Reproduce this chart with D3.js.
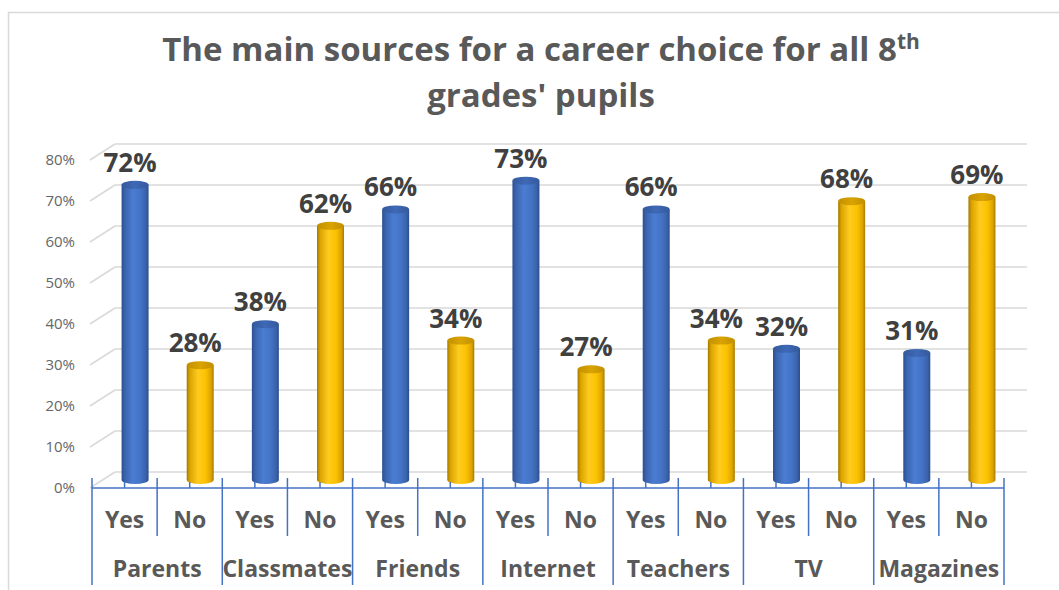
<!DOCTYPE html>
<html>
<head>
<meta charset="utf-8">
<script src="https://cdn.jsdelivr.net/npm/d3@7/dist/d3.min.js"></script>
<style>
  html, body { margin: 0; padding: 0; background: #fff; }
  svg { display: block; font-family: "Open Sans", "Noto Sans", sans-serif; }
</style>
</head>
<body>
<svg id="chart" width="1059" height="590"></svg>
<script>
// Career-choice sources, share of pupils answering Yes / No
const groups = ["Parents", "Classmates", "Friends", "Internet", "Teachers", "TV", "Magazines"];
const answers = ["Yes", "No"];
const yesValues = [0.72, 0.38, 0.66, 0.73, 0.66, 0.32, 0.31];
const noValues  = [0.28, 0.62, 0.34, 0.27, 0.34, 0.68, 0.69];
const yTicks = [0, 0.1, 0.2, 0.3, 0.4, 0.5, 0.6, 0.7, 0.8];

const svg = d3.select("#chart");
const W = 1059, H = 590;

// flatten into one slot per bar
const slots = [];
groups.forEach((g, i) => {
  slots.push({ group: g, answer: "Yes", value: yesValues[i] });
  slots.push({ group: g, answer: "No",  value: noValues[i] });
});
slots.forEach((d, i) => d.key = i);

// layout of the pseudo-3D plot
const frontLeft = 92, frontRight = 1004;
const depthX = 23, depthY = -16;          // back wall offset from the front plane
const frontZero = 488, frontTop = 160;    // y of 0% and 80% on the front plane

const x = d3.scaleBand().domain(slots.map(d => d.key)).range([frontLeft, frontRight]).paddingInner(0).paddingOuter(0);
const yFront = d3.scaleLinear().domain([0, 0.8]).range([frontZero, frontTop]);
const yBack = v => yFront(v) + depthY;
const yMid = v => yFront(v) + depthY / 2;

// chart frame
svg.append("rect")
  .attr("x", 8.5).attr("y", 12.5)
  .attr("width", W + 20).attr("height", H + 20)
  .attr("fill", "none").attr("stroke", "#d9d9d9").attr("stroke-width", 1.5);

// title
const title = svg.append("g").attr("fill", "#595959").attr("font-weight", 700).attr("text-anchor", "middle");
const t1 = title.append("text").attr("x", 541).attr("y", 61).attr("font-size", 33);
t1.append("tspan").text("The main sources for a career choice for all 8");
t1.append("tspan").attr("font-size", 21).attr("dy", -12).text("th");
title.append("text").attr("x", 541).attr("y", 107).attr("font-size", 33).text("grades' pupils");

// gridlines: back wall + left side wall
const grid = svg.append("g").attr("stroke", "#d9d9d9").attr("stroke-width", 1.5).attr("fill", "none");
grid.selectAll("line.back").data(yTicks).join("line")
  .attr("class", "back")
  .attr("x1", frontLeft + depthX).attr("x2", frontRight + depthX)
  .attr("y1", d => yBack(d)).attr("y2", d => yBack(d));
grid.selectAll("line.side").data(yTicks).join("line")
  .attr("class", "side")
  .attr("x1", frontLeft - 2).attr("x2", frontLeft + depthX)
  .attr("y1", d => yFront(d)).attr("y2", d => yBack(d));

// y axis labels
svg.append("g").attr("fill", "#666666").attr("font-size", 15).attr("text-anchor", "end")
  .selectAll("text").data(yTicks).join("text")
  .attr("x", 75).attr("y", d => yFront(d)).attr("dy", "0.35em")
  .text(d3.format(".0%"));

// cylinder gradients
const defs = svg.append("defs");
function cylGradient(id, stops) {
  const g = defs.append("linearGradient").attr("id", id).attr("x1", 0).attr("x2", 1).attr("y1", 0).attr("y2", 0);
  stops.forEach(([o, c]) => g.append("stop").attr("offset", o).attr("stop-color", c));
}
cylGradient("blueBody", [[0, "#2b4f8f"], [0.12, "#3a63ad"], [0.42, "#4a7dd2"], [0.7, "#4473c5"], [0.9, "#3a62a9"], [1, "#2b4e8b"]]);
cylGradient("goldBody", [[0, "#a37a00"], [0.12, "#dba400"], [0.42, "#ffcb1f"], [0.7, "#fcc200"], [0.9, "#dca400"], [1, "#a67c00"]]);
cylGradient("blueTop", [[0, "#34599c"], [0.5, "#3f69b6"], [1, "#34599c"]]);
cylGradient("goldTop", [[0, "#c29000"], [0.5, "#d9a300"], [1, "#c29000"]]);

const barW = 27, ry = 4;
const barCx = d => x(d.key) + x.bandwidth() / 2 + 10.5;

const bars = svg.append("g").selectAll("g").data(slots).join("g");
bars.append("path")
  .attr("fill", d => d.answer === "Yes" ? "url(#blueBody)" : "url(#goldBody)")
  .attr("d", d => {
    const cx = barCx(d), top = yMid(d.value), bot = yMid(0);
    const l = cx - barW / 2, r = cx + barW / 2;
    return `M${l},${top} L${l},${bot} A${barW / 2},${ry} 0 0 0 ${r},${bot} L${r},${top} Z`;
  });
bars.append("ellipse")
  .attr("cx", barCx).attr("cy", d => yMid(d.value))
  .attr("rx", barW / 2).attr("ry", ry)
  .attr("fill", d => d.answer === "Yes" ? "url(#blueTop)" : "url(#goldTop)");

// value labels
svg.append("g").attr("fill", "#404040").attr("font-size", 26).attr("font-weight", 700).attr("text-anchor", "middle")
  .selectAll("text").data(slots).join("text")
  .attr("x", d => barCx(d) - 5)
  .attr("y", d => yMid(d.value) - 13)
  .text(d => d3.format(".0%")(d.value));

// category axis (two levels)
const axis = svg.append("g").attr("stroke", "#4472c4").attr("stroke-width", 1.5);
axis.append("line").attr("x1", frontLeft).attr("x2", frontRight).attr("y1", frontZero).attr("y2", frontZero);
// boundaries between slots: short for Yes|No, long for group edges
const bounds = d3.range(slots.length + 1);
axis.selectAll("line.b").data(bounds).join("line")
  .attr("class", "b")
  .attr("x1", i => i < slots.length ? x(i) : x(slots.length - 1) + x.bandwidth())
  .attr("x2", i => i < slots.length ? x(i) : x(slots.length - 1) + x.bandwidth())
  .attr("y1", frontZero - 10)
  .attr("y2", i => i % 2 === 0 ? 585 : 536);
// small ticks at slot centres
axis.selectAll("line.t").data(slots).join("line")
  .attr("class", "t")
  .attr("x1", d => x(d.key) + x.bandwidth() / 2).attr("x2", d => x(d.key) + x.bandwidth() / 2)
  .attr("y1", frontZero - 6).attr("y2", frontZero);

const labels = svg.append("g").attr("fill", "#595959").attr("font-weight", 700).attr("font-size", 23).attr("text-anchor", "middle");
labels.selectAll("text.a").data(slots).join("text")
  .attr("class", "a")
  .attr("x", d => x(d.key) + x.bandwidth() / 2).attr("y", 528)
  .text(d => d.answer);
labels.selectAll("text.g").data(groups).join("text")
  .attr("class", "g")
  .attr("x", (g, i) => x(i * 2) + x.bandwidth()).attr("y", 577)
  .text(g => g);
</script>
</body>
</html>
